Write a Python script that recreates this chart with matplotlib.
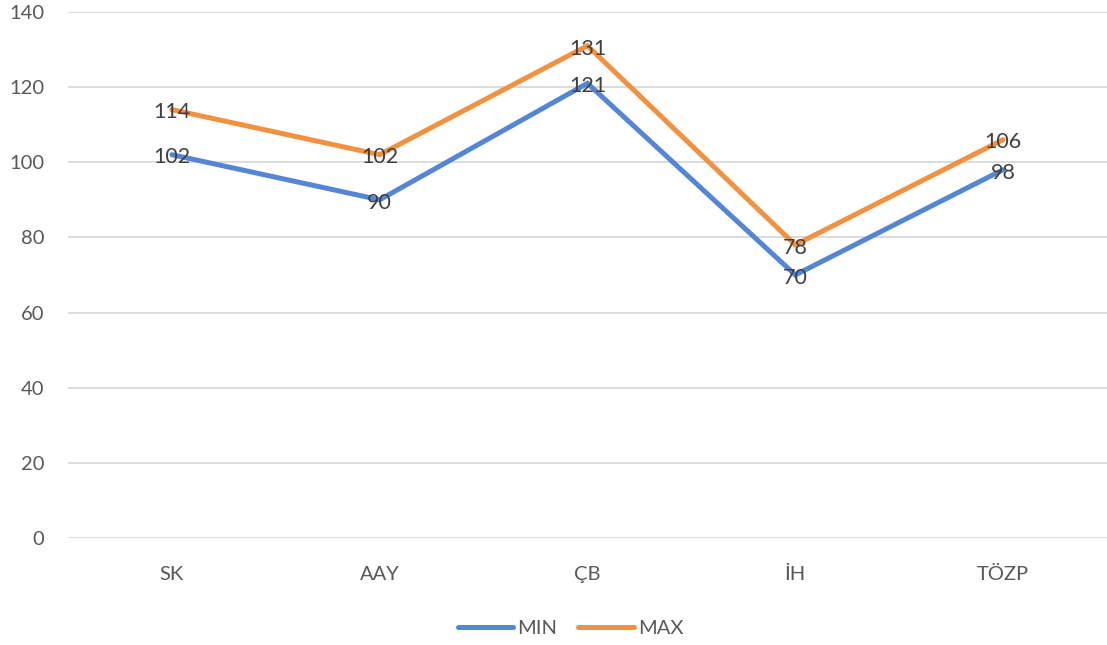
import matplotlib.pyplot as plt
from matplotlib.lines import Line2D

categories = ["SK", "AAY", "ÇB", "İH", "TÖZP"]
min_vals = [102, 90, 121, 70, 98]
max_vals = [114, 102, 131, 78, 106]

blue = "#5585D5"
orange = "#F2913F"
grid_c = "#D9D9D9"
txt_c = "#595959"
lbl_c = "#404040"

plt.rcParams['font.family'] = ['Lato', 'DejaVu Sans']

fig = plt.figure(figsize=(11.07, 6.45), dpi=100)
ax = fig.add_axes([0.0614, 0.166, 0.9386, 0.8155])

x = list(range(len(categories)))
ax.plot(x, min_vals, color=blue, lw=3.6, solid_capstyle='round', solid_joinstyle='miter', zorder=3)
ax.plot(x, max_vals, color=orange, lw=3.6, solid_capstyle='round', solid_joinstyle='miter', zorder=4)

# data labels sit on the points, nudged a touch down
for vals in (min_vals, max_vals):
    for xi, v in zip(x, vals):
        ax.annotate(str(v), (xi, v), xytext=(0, -2), textcoords='offset points',
                    ha='center', va='center', fontsize=15.5, color=lbl_c, zorder=5)

ax.set_xlim(-0.5, len(categories) - 0.5)
ax.set_ylim(0, 140)
ax.set_yticks(range(0, 141, 20))
ax.set_xticks(x)
ax.set_xticklabels(categories)
ax.grid(axis='y', color=grid_c, lw=1.3, zorder=0)
for s in ax.spines.values():
    s.set_visible(False)
ax.tick_params(axis='both', length=0, labelsize=14.5, labelcolor=txt_c)
ax.tick_params(axis='x', pad=20)
ax.tick_params(axis='y', pad=17)

handles = [Line2D([0], [0], color=blue, lw=3.6, solid_capstyle='round'),
           Line2D([0], [0], color=orange, lw=3.6, solid_capstyle='round')]
fig.legend(handles, ["MIN", "MAX"], loc='center', bbox_to_anchor=(0.5154, 0.026),
           ncol=2, frameon=False, fontsize=14.5, labelcolor=txt_c,
           handlelength=2.75, handletextpad=0.2, columnspacing=1.05)

plt.savefig("out.png", dpi=100)
